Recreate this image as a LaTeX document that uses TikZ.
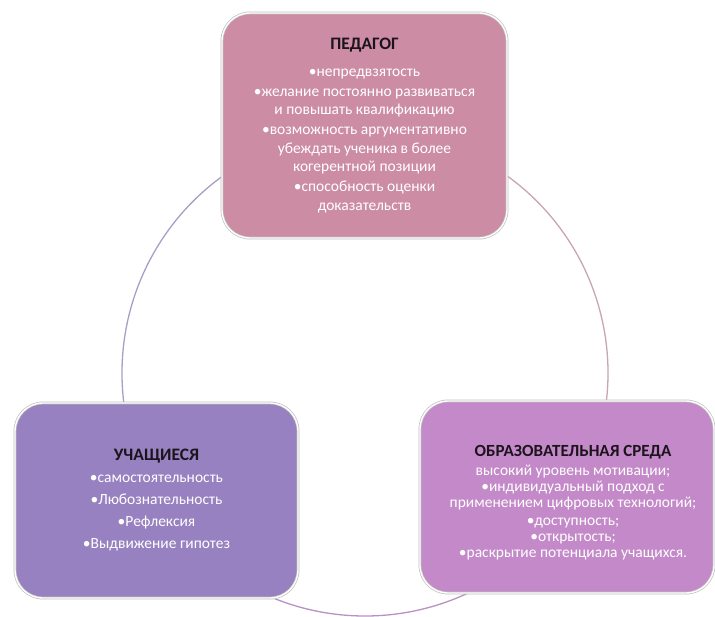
\documentclass[tikz,border=0pt]{standalone}
\usepackage{fontspec}
\setmainfont{Carlito}
\definecolor{pedfill}{RGB}{204,140,163}
\definecolor{uchfill}{RGB}{152,129,192}
\definecolor{obrfill}{RGB}{196,137,200}
\definecolor{ttlcol}{RGB}{28,20,28}
\definecolor{arcL}{RGB}{165,160,200}
\definecolor{arcR}{RGB}{200,165,180}
\definecolor{arcB}{RGB}{185,145,196}
\newcommand{\ttlfont}{\fontsize{17.5}{20}\selectfont\bfseries}
\begin{document}
\begin{tikzpicture}[x=1pt,y=-1pt,
  box/.style={rectangle, rounded corners=28pt, draw=black!25, double=white,
    double distance=1.4pt, line width=0.7pt, align=center, text=white,
    inner sep=0pt, font=\fontsize{15.5}{18.7}\selectfont},
  txt/.style={align=center, text=white, inner sep=0pt},
  cyc/.style={line width=1.3pt}
]
\useasboundingbox (0,0) rectangle (715,616);
\coordinate (c) at (365,373);
\draw[cyc, arcL] (c) ++(240:243) arc[start angle=240, end angle=168, radius=243];
\draw[cyc, arcR] (c) ++(300:243) arc[start angle=300, end angle=372, radius=243];
\draw[cyc, arcB] (c) ++(58:243) arc[start angle=58, end angle=122, radius=243];

\node[box, fill=pedfill, minimum width=285, minimum height=225] (ped) at (364.5,125.5)
 {\textcolor{ttlcol}{\ttlfont ПЕДАГОГ}\\[8pt]
  •непредвзятость\\[1pt]
  •желание постоянно развиваться\\
  и повышать квалификацию\\[1pt]
  •возможность аргументативно\\
  убеждать ученика в более\\
  когерентной позиции\\[1pt]
  •способность оценки\\
  доказательств};

\node[box, fill=uchfill, minimum width=283, minimum height=195,
  font=\fontsize{15.5}{22}\selectfont] (uch) at (156.5,500.5)
 {\textcolor{ttlcol}{\ttlfont УЧАЩИЕСЯ}\\[0pt]
  •самостоятельность\\
  •Любознательность\\
  •Рефлексия\\
  •Выдвижение гипотез};

\node[box, fill=obrfill, minimum width=294, minimum height=192] (obr) at (567,497) {};
\node[txt, font=\fontsize{15.5}{16}\selectfont] (obrt) at (573,503)
 {\textcolor{ttlcol}{\fontsize{17}{20}\selectfont\bfseries ОБРАЗОВАТЕЛЬНАЯ СРЕДА}\\[3pt]
  высокий уровень мотивации;\\
  •индивидуальный подход с\\
  применением цифровых технологий;\\[2pt]
  •доступность;\\
  •открытость;\\
  •раскрытие потенциала учащихся.};
\end{tikzpicture}
\end{document}
